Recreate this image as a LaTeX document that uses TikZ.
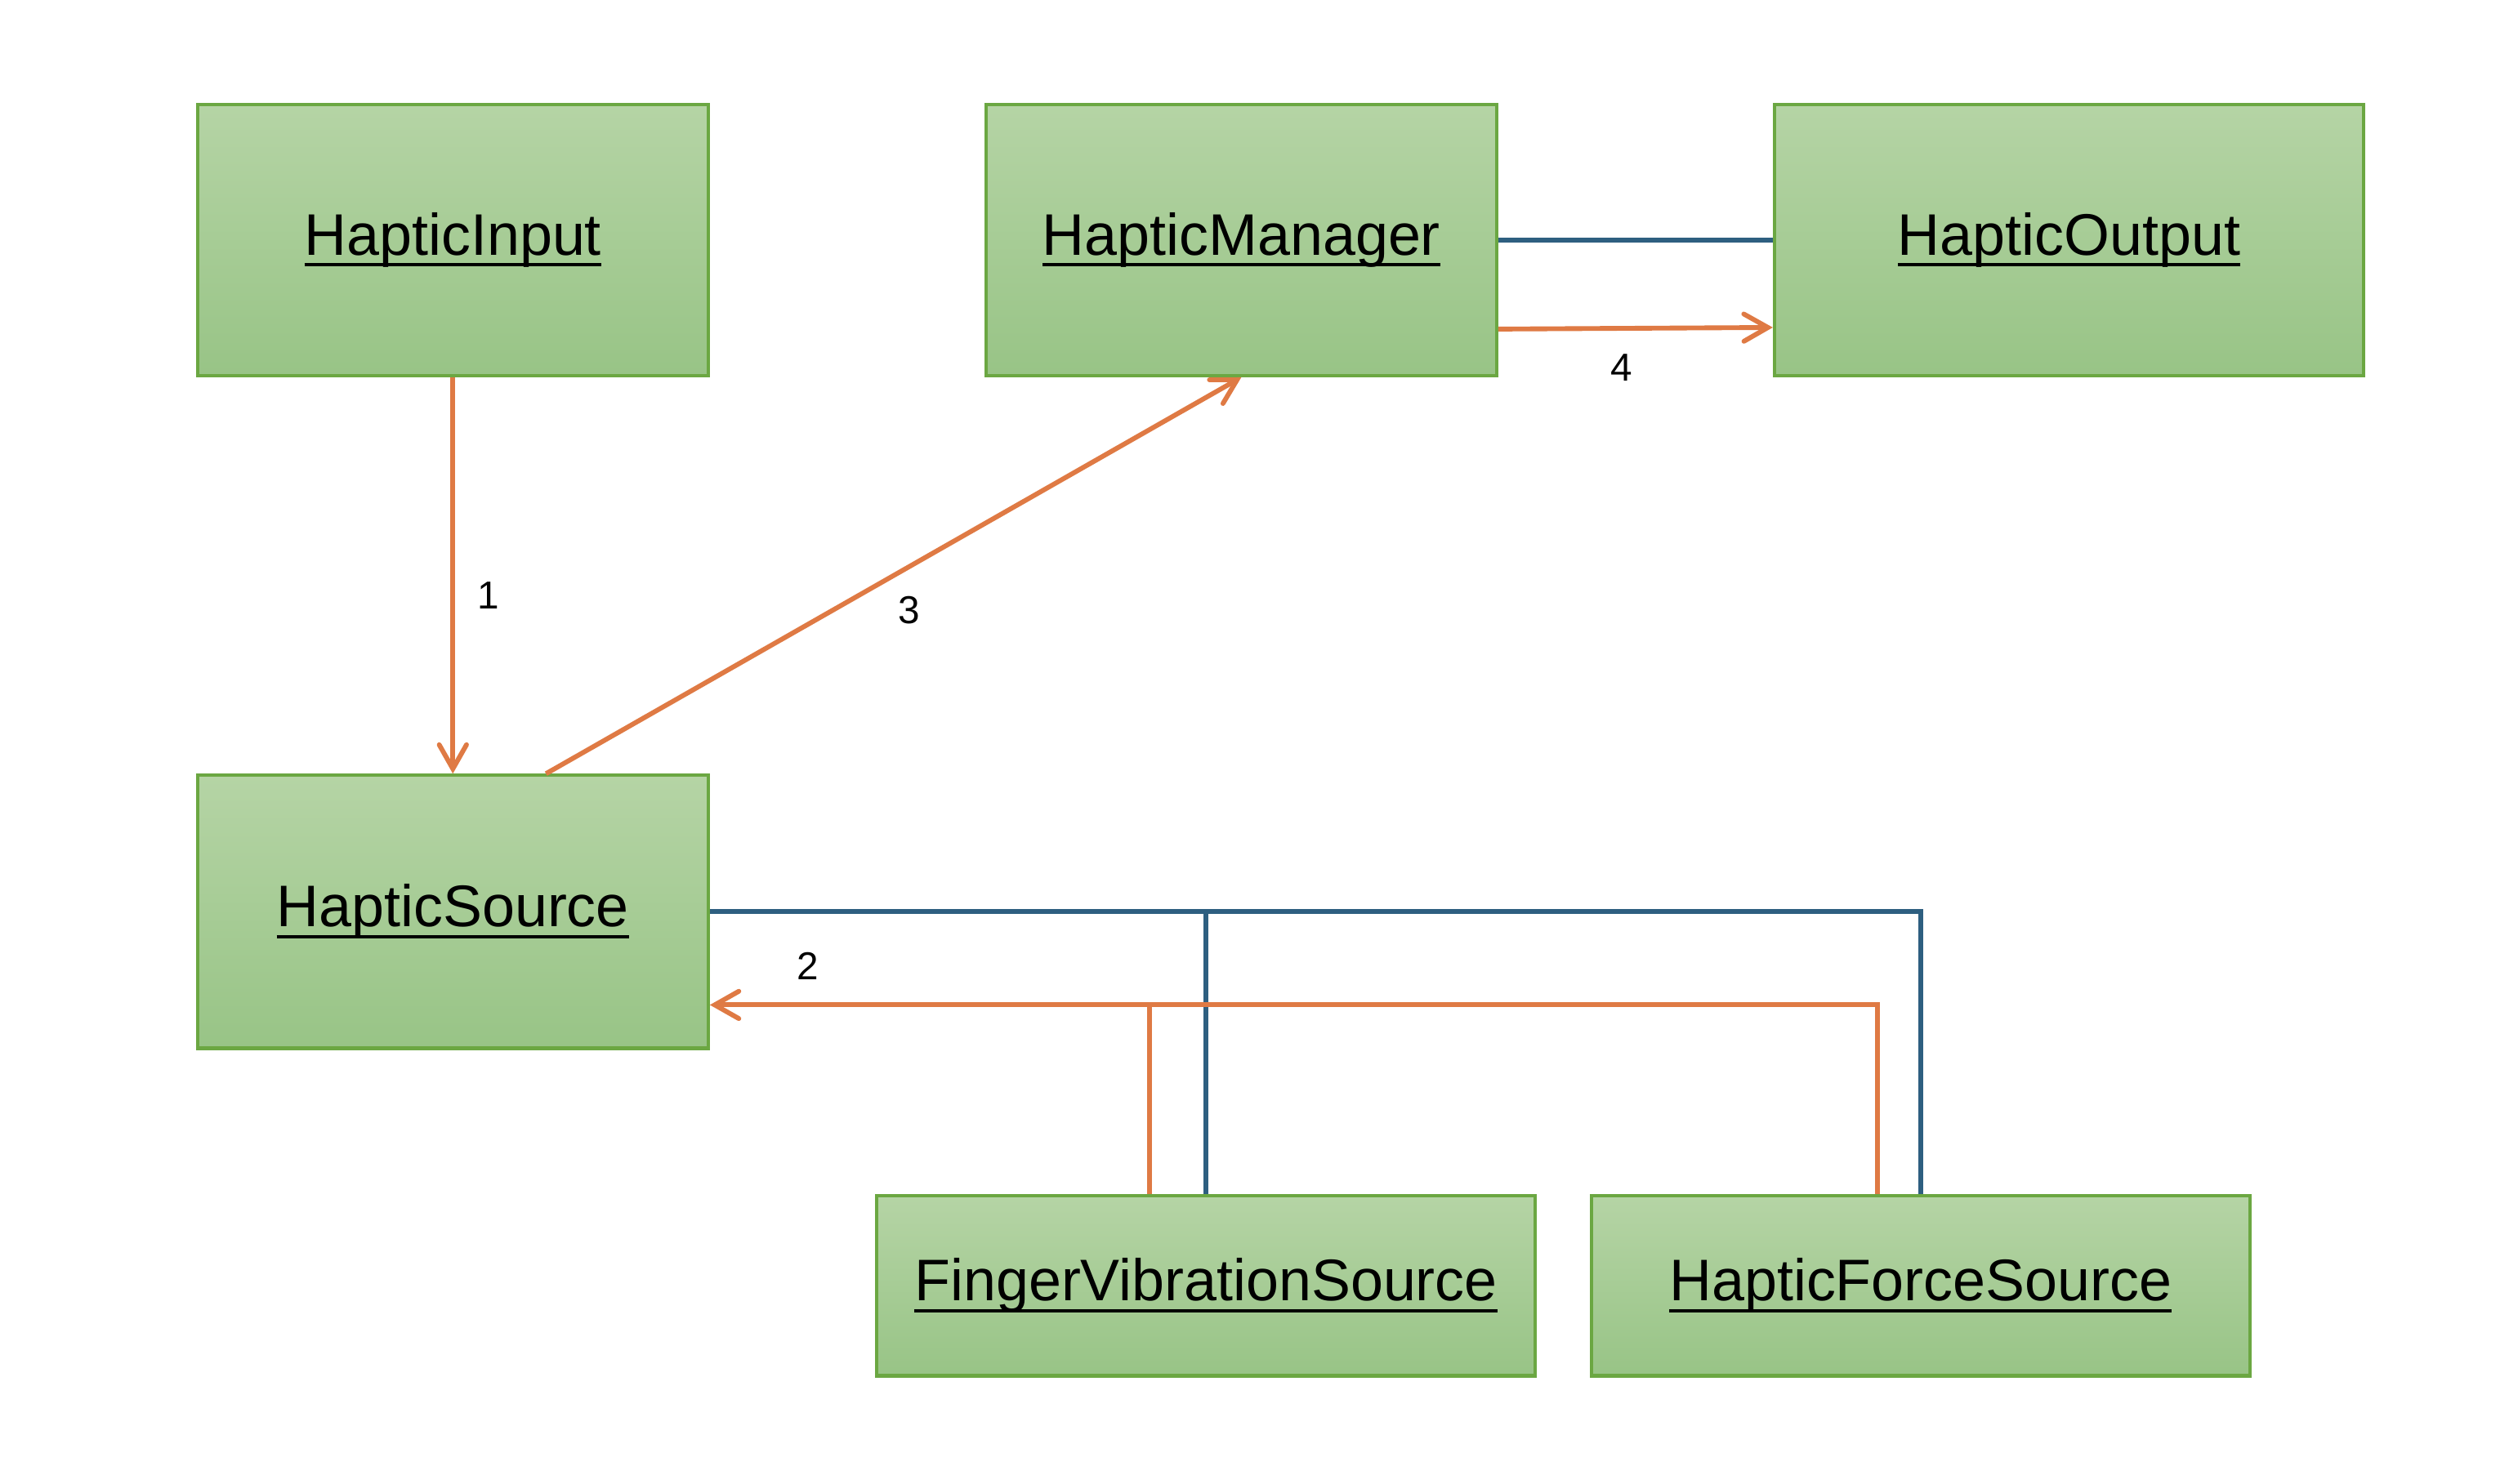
\documentclass[tikz,border=0pt]{standalone}
\usepackage{fontspec}
\setmainfont{Liberation Sans}
\usetikzlibrary{arrows.meta}
\newsavebox{\myulbox}
\newcommand{\myul}[1]{\sbox{\myulbox}{#1}\rlap{\rule[-2.0pt]{\wd\myulbox}{0.55pt}}\usebox{\myulbox}}
\definecolor{boxtop}{RGB}{181,212,165}
\definecolor{boxbot}{RGB}{152,196,134}
\definecolor{boxline}{RGB}{107,167,66}
\definecolor{conor}{RGB}{223,122,68}
\definecolor{conbl}{RGB}{46,95,128}
\tikzset{
  box/.style={draw=boxline, line width=0.6pt, top color=boxtop, bottom color=boxbot,
    inner sep=0pt, font=\fontsize{10.4}{12}\selectfont, text=black},
  orline/.style={draw=conor, line width=0.85pt},
  orarr/.style={orline, -{Straight Barb[length=1.5mm,width=1.7mm,line cap=round,line width=0.85pt]}},
  blline/.style={draw=conbl, line width=0.85pt},
  lbl/.style={font=\fontsize{6.9}{8}\selectfont, inner sep=0pt, text=black}
}
\begin{document}
\begin{tikzpicture}[x=0.1mm,y=-0.1mm]
\useasboundingbox (0,0) rectangle (1568,924);
% boxes
\node[box, minimum width=31.8mm, minimum height=16.9mm] (in) at (282,149.5) {\myul{HapticInput}};
\node[box, minimum width=31.8mm, minimum height=16.9mm] (man) at (773,149.5) {\myul{HapticManager}};
\node[box, minimum width=36.7mm, minimum height=16.9mm] (out) at (1288.5,149.5) {\myul{HapticOutput}};
\node[box, minimum width=31.8mm, minimum height=17.0mm] (src) at (282,568) {\myul{HapticSource}};
\node[box, minimum width=41.0mm, minimum height=11.2mm] (fvs) at (751,801) {\myul{FingerVibrationSource}};
\node[box, minimum width=41.0mm, minimum height=11.2mm] (fhs) at (1196,801) {\myul{HapticForceSource}};
% helper coordinates
\coordinate (s2) at ([yshift=-5.8mm]src.east);
\coordinate (fv2) at ([xshift=-3.5mm]fvs.north);
\coordinate (fh2) at ([xshift=-2.7mm]fhs.north);
\coordinate (s3) at ([xshift=5.8mm]src.north);
% blue associations
\draw[blline] (man.east) -- (out.west);
\draw[blline] (src.east) -| (fhs.north);
\draw[blline] (fvs.north) -- (fvs.north |- src.east);
% orange arrows
\draw[orarr] (in.south) -- (src.north);
\draw[orarr] (s3) -- (man.south);
\draw[orarr] ([yshift=-5.55mm]man.east) -- ([yshift=-5.45mm]out.west);
\draw[orline] (fv2) -- (fv2 |- s2);
\draw[orarr] (fh2) |- (s2);
% labels
\node[lbl] (l1) at (304,371) {1};
\node[lbl] (l2) at (503,602) {2};
\node[lbl] (l3) at (566,380) {3};
\node[lbl] (l4) at (1010,229) {4};
\end{tikzpicture}
\end{document}
